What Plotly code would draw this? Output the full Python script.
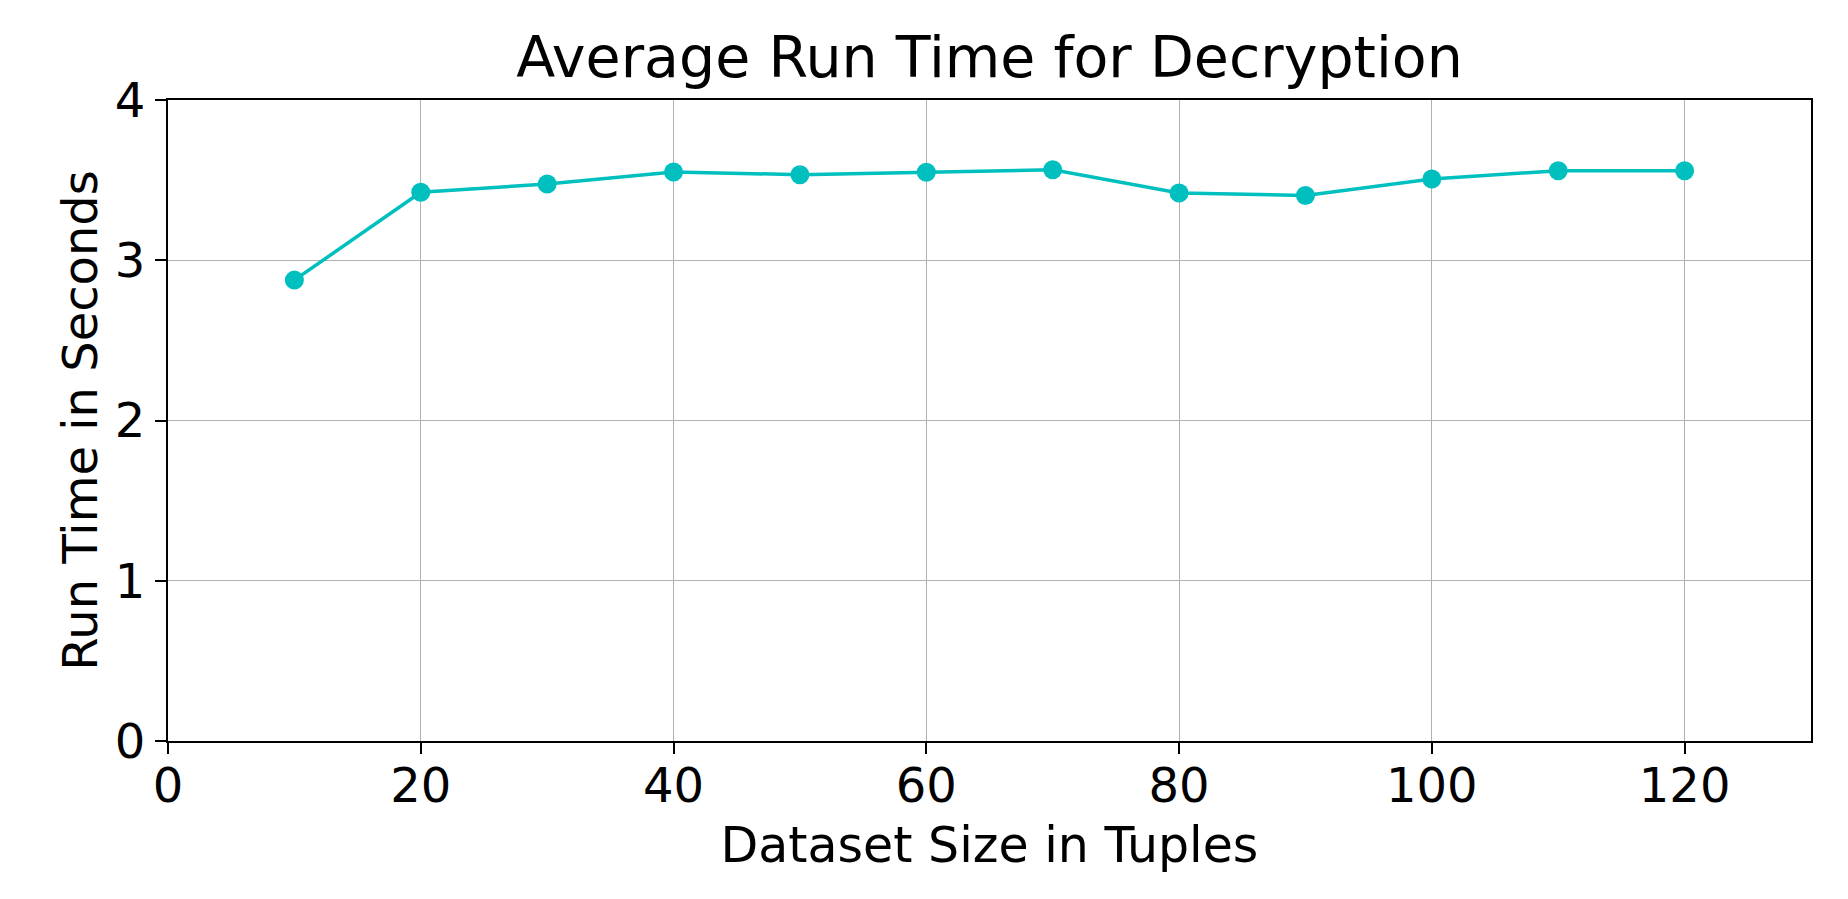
import plotly.graph_objects as go

# Datensatzgroesse und mittlere Laufzeit
dataset_size = [10, 20, 30, 40, 50, 60, 70, 80, 90, 100, 110, 120]
run_time = [2.876, 3.424, 3.476, 3.551, 3.534, 3.549, 3.565, 3.420, 3.404, 3.507, 3.559, 3.559]

x_ticks = [0, 20, 40, 60, 80, 100, 120]
y_ticks = [0, 1, 2, 3, 4]

FONT = "DejaVu Sans"

fig = go.Figure()
fig.add_scatter(x=dataset_size, y=run_time, mode='lines+markers',
                line=dict(color='#00BFBF', width=3.5),
                marker=dict(color='#00BFBF', size=19),
                showlegend=False)

fig.update_layout(
    width=1848, height=899,
    margin=dict(l=160, r=45, t=92, b=166),
    paper_bgcolor='white', plot_bgcolor='white',
    font=dict(family=FONT, size=48, color='black'),
    title=dict(text='Average Run Time for Decryption', x=0.5, xref='paper', xanchor='center',
               y=0.945, yanchor='middle', font=dict(family=FONT, size=57, color='black')),
)

axis_style = dict(showline=True, linecolor='black', linewidth=2, mirror=True,
                  showgrid=True, gridcolor='#b0b0b0', gridwidth=1,
                  ticks='outside', ticklen=11, tickwidth=1.5, tickcolor='black',
                  zeroline=False, tickfont=dict(family=FONT, size=48, color='black'))

fig.update_xaxes(range=[0, 130], tickvals=x_ticks, ticklabelstandoff=-10,
                 title=dict(text='Dataset Size in Tuples', standoff=16,
                            font=dict(family=FONT, size=49, color='black')),
                 **axis_style)
fig.update_yaxes(range=[0, 4], tickvals=y_ticks, ticklabelstandoff=0,
                 title=dict(text='Run Time in Seconds', standoff=2,
                            font=dict(family=FONT, size=48, color='black')),
                 **axis_style)

fig.write_html("out.html")
